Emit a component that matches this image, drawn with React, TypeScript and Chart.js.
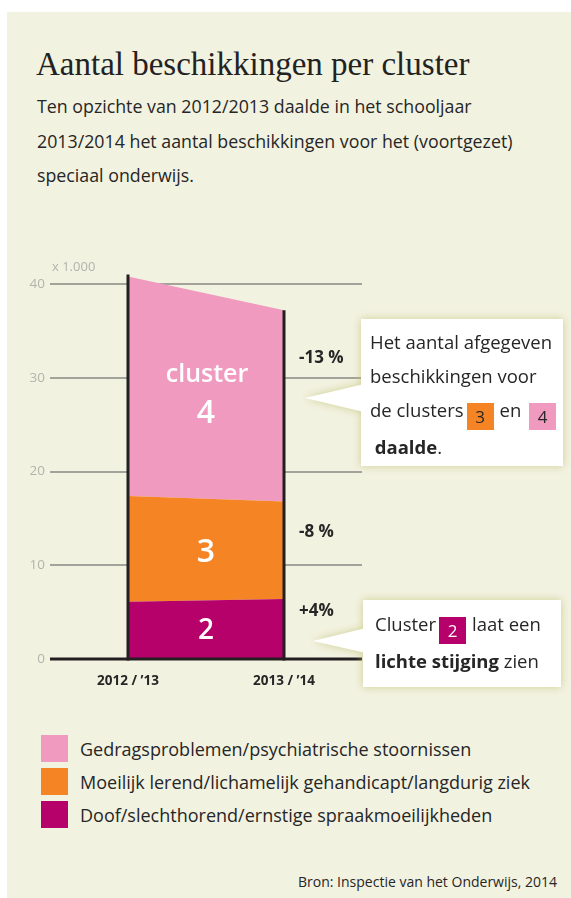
import React, { useEffect, useRef } from 'react';
import { Chart, registerables } from 'chart.js';
Chart.register(...registerables);

// ---- data ----
const years = ['2012 / ’13', '2013 / ’14'];
const cluster2 = [6.1, 6.4];
const cluster3 = [11.3, 10.4];
const cluster4 = [23.4, 20.4];
const yTicks = [0, 10, 20, 30, 40];
const clusterLabels = ['2', '3', '4'];
const legendNames = [
  'Gedragsproblemen/psychiatrische stoornissen',
  'Moeilijk lerend/lichamelijk gehandicapt/langdurig ziek',
  'Doof/slechthorend/ernstige spraakmoeilijkheden',
];
const changes = ['-13 %', '-8 %', '+4%'];

const C2 = '#b6006a';
const C3 = '#f58424';
const C4 = '#f09abf';
const BG = '#f2f2e1';
const DARK = '#262626';
const SANS = '"Open Sans", "Noto Sans", sans-serif';

const overlayPlugin = {
  id: 'overlay',
  afterDatasetsDraw(chart: any) {
    const { ctx, chartArea } = chart;
    const x = chart.scales.x;
    const y = chart.scales.y;
    ctx.save();
    const y0 = y.getPixelForValue(0);
    ctx.strokeStyle = '#231f20';
    ctx.lineWidth = 3;
    ctx.beginPath();
    ctx.moveTo(chartArea.left, y0);
    ctx.lineTo(chartArea.right, y0);
    ctx.stroke();
    years.forEach((_, i) => {
      const total = cluster2[i] + cluster3[i] + cluster4[i];
      const px = x.getPixelForValue(i);
      ctx.beginPath();
      ctx.moveTo(px, y0 + 1.5);
      ctx.lineTo(px, y.getPixelForValue(total) - (i === 0 ? 2 : 0));
      ctx.stroke();
    });
    // cluster labels
    const series = [cluster2, cluster3, cluster4];
    const mx = x.getPixelForValue(0.5);
    ctx.fillStyle = '#ffffff';
    ctx.textAlign = 'center';
    ctx.textBaseline = 'middle';
    series.forEach((s, k) => {
      let mid = 0;
      years.forEach((_, i) => {
        let base = 0;
        for (let j = 0; j < k; j++) base += series[j][i];
        mid += base + s[i] / 2;
      });
      mid /= years.length;
      const py = y.getPixelForValue(mid);
      if (k === 2) {
        ctx.font = `600 25px ${SANS}`;
        ctx.fillText('cluster', mx + 1, py - 21);
        ctx.font = `600 32px ${SANS}`;
        ctx.fillText(clusterLabels[k], mx, py + 18);
      } else {
        ctx.font = `600 ${k === 0 ? 28 : 32}px ${SANS}`;
        ctx.fillText(clusterLabels[k], mx, py + (k === 1 ? 3 : 1));
      }
    });
    ctx.restore();
  },
};

function ChartCanvas() {
  const ref = useRef<HTMLCanvasElement>(null);
  useEffect(() => {
    if (!ref.current) return;
    const mk = (vals: number[]) => vals.map((v, i) => ({ x: i, y: v }));
    const chart = new Chart(ref.current, {
      type: 'line',
      data: {
        datasets: [
          { label: legendNames[2], data: mk(cluster2), backgroundColor: C2, borderWidth: 0, pointRadius: 0, fill: 'origin' },
          { label: legendNames[1], data: mk(cluster3), backgroundColor: C3, borderWidth: 0, pointRadius: 0, fill: '-1' },
          { label: legendNames[0], data: mk(cluster4), backgroundColor: C4, borderWidth: 0, pointRadius: 0, fill: '-1' },
        ],
      },
      options: {
        responsive: false,
        animation: false,
        layout: { padding: { top: 5, right: 209, left: 0, bottom: 0 } },
        plugins: { legend: { display: false }, tooltip: { enabled: false } },
        scales: {
          x: {
            type: 'linear',
            min: -0.5,
            max: 1.5,
            grid: { display: false, drawTicks: false },
            border: { display: false },
            afterBuildTicks: (s: any) => { s.ticks = years.map((_, i) => ({ value: i })); },
            afterFit: (s: any) => { s.height = 41; },
            ticks: {
              padding: 14,
              maxRotation: 0,
              color: DARK,
              font: { family: SANS, size: 13.5, weight: 'bold' },
              callback: (v: any) => years[v as number] ?? '',
            },
          },
          y: {
            type: 'linear',
            stacked: true,
            min: 0,
            max: 43.3,
            afterBuildTicks: (s: any) => { s.ticks = yTicks.map((v) => ({ value: v })); },
            afterFit: (s: any) => { s.width = 50; },
            grid: {
              color: '#a3a39b',
              lineWidth: (c: any) => (c.tick && c.tick.value === 0 ? 0 : 2),
              drawTicks: false,
            },
            border: { display: false },
            ticks: {
              padding: 5,
              color: '#b3b3aa',
              font: { family: SANS, size: 13.5 },
            },
          },
        },
      },
      plugins: [overlayPlugin],
    } as any);
    return () => chart.destroy();
  }, []);
  return <canvas ref={ref} width={571} height={460} style={{ display: 'block' }} />;
}

const chip = (bg: string, fg: string, t: string) => (
  <span style={{ display: 'inline-block', width: 27, height: 27, lineHeight: '27px', textAlign: 'center', background: bg, color: fg, verticalAlign: '-6px', margin: '0 6px 0 3px', fontSize: 17 }}>{t}</span>
);

export default function App() {
  const abs = (l: number, t: number, extra: any = {}) => ({ position: 'absolute' as const, left: l, top: t, ...extra });
  return (
    <div style={{ position: 'absolute', left: 0, top: 0, width: 571, height: 898, background: '#ffffff', overflow: 'hidden', fontFamily: SANS, color: DARK }}>
      <div style={abs(7, 12, { width: 564, height: 886, background: BG })} />
      <div style={abs(36, 48, { fontFamily: '"Liberation Serif", serif', fontSize: 33, lineHeight: '32px', whiteSpace: 'nowrap', color: '#222' })}>
        Aantal beschikkingen per cluster
      </div>
      <div style={abs(37, 89, { fontSize: 17.8, lineHeight: '34.5px', width: 530, whiteSpace: 'nowrap' })}>
        Ten opzichte van 2012/2013 daalde in het schooljaar<br />
        2013/2014 het aantal beschikkingen voor het (voortgezet)<br />
        speciaal onderwijs.
      </div>
      <div style={abs(0, 240)}>
        <ChartCanvas />
      </div>
      <div style={abs(52, 258, { fontSize: 13, color: '#b3b3aa', lineHeight: '16px' })}>x 1.000</div>
      {changes.map((c, i) => (
        <div key={c} style={abs(299, [347, 521, 600][i], { fontSize: 17, fontWeight: 700, lineHeight: '20px', whiteSpace: 'nowrap' })}>{c}</div>
      ))}
      {/* callout 1 */}
      <div style={abs(0, 0, { filter: 'drop-shadow(0 0 4px rgba(190,190,110,0.7))' })}>
        <div style={abs(304, 384, { width: 60, height: 28, background: '#fff', clipPath: 'polygon(1px 14px, 60px 0, 60px 28px)' })} />
        <div style={abs(361, 319, { width: 202, height: 147, background: '#fff', boxSizing: 'border-box', padding: '6px 0 0 9px', fontSize: 18.5, lineHeight: '34px', whiteSpace: 'nowrap' })}>
          Het aantal afgegeven<br />
          beschikkingen voor<br />
          de clusters{chip(C3, DARK, '3')}en {chip(C4, DARK, '4')}<br />
          <b>&nbsp;daalde</b>.
        </div>
      </div>
      {/* callout 2 */}
      <div style={abs(0, 0, { filter: 'drop-shadow(0 0 4px rgba(190,190,110,0.7))' })}>
        <div style={abs(312, 628, { width: 54, height: 25, background: '#fff', clipPath: 'polygon(1px 13px, 54px 0, 54px 25px)' })} />
        <div style={abs(363, 600, { width: 198, height: 87, background: '#fff', boxSizing: 'border-box', padding: '7px 0 0 12px', fontSize: 18.5, lineHeight: '34px', whiteSpace: 'nowrap' })}>
          Cluster{chip(C2, '#fff', '2')}laat een<br />
          <b>lichte stijging</b> zien
        </div>
      </div>
      {/* legend */}
      {legendNames.map((n, i) => (
        <div key={n} style={abs(41, 735 + i * 33, { display: 'flex', alignItems: 'center', height: 27 })}>
          <div style={{ width: 27, height: 27, background: [C4, C3, C2][i] }} />
          <div style={{ marginLeft: 12, fontSize: 18, whiteSpace: 'nowrap' }}>{n}</div>
        </div>
      ))}
      <div style={abs(200, 873, { width: 357, textAlign: 'right', fontSize: 14, lineHeight: '18px' })}>
        Bron: Inspectie van het Onderwijs, 2014
      </div>
    </div>
  );
}
